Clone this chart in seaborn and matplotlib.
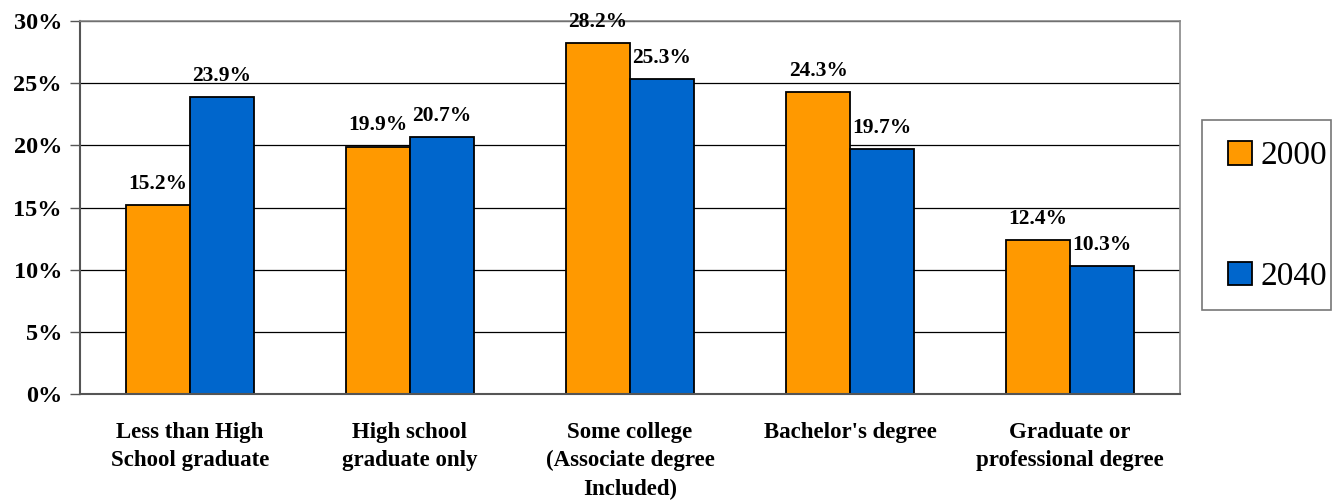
import matplotlib
matplotlib.use("Agg")
import matplotlib.pyplot as plt
import seaborn as sns
import pandas as pd
import numpy as np
from matplotlib.patches import Patch, Rectangle

categories = ["Less than High\nSchool graduate", "High school\ngraduate only",
              "Some college\n(Associate degree\nIncluded)", "Bachelor's degree",
              "Graduate or\nprofessional degree"]
values_2000 = [15.2, 19.9, 28.2, 24.3, 12.4]
values_2040 = [23.9, 20.7, 25.3, 19.7, 10.3]
series = ["2000", "2040"]
colors = ["#FF9900", "#0066CC"]
yticks = [0, 5, 10, 15, 20, 25, 30]

df = pd.DataFrame({
    "cat": categories * 2,
    "val": values_2000 + values_2040,
    "year": [series[0]] * 5 + [series[1]] * 5,
})

sns.set_style("white")
plt.rcParams['font.family'] = ['Liberation Serif', 'DejaVu Serif']
plt.rcParams['text.color'] = 'black'
plt.rcParams['xtick.labelcolor'] = 'black'
plt.rcParams['ytick.labelcolor'] = 'black'

W, H = 1342, 501
fig = plt.figure(figsize=(W / 100, H / 100), dpi=100)
ax = fig.add_axes([80 / W, 1 - 394 / H, 1100 / W, 373 / H])

sns.barplot(data=df, x="cat", y="val", hue="year", palette=colors, ax=ax,
            width=0.58, edgecolor="black", linewidth=1.3, legend=False,
            saturation=1)

ax.set_ylim(0, 30)
ax.set_xlim(-0.5, 4.5)
ax.set_yticks(yticks)
ax.set_yticklabels([f"{t}%" for t in yticks], fontsize=17.5, fontweight="bold",
                   color="black")
ax.yaxis.grid(True, color="black", linewidth=0.9)
ax.set_axisbelow(True)
ax.set_xlabel("")
ax.set_ylabel("")

ax.set_xticks(range(5))
ax.set_xticklabels(categories, fontsize=16.5, fontweight="bold", linespacing=1.45,
                   color="black")
ax.tick_params(axis="x", length=0, pad=20)
ax.set_xticks(np.arange(-0.5, 5, 1), minor=True)
ax.tick_params(axis="x", which="minor", length=7, color="#555555", width=1, direction="out")
ax.tick_params(axis="y", length=7, color="#555555", width=1, direction="out", left=True, pad=6)

for s in ["top", "right"]:
    ax.spines[s].set_color("#888888")
    ax.spines[s].set_linewidth(1.2)
ax.spines["left"].set_color("#555555")
ax.spines["left"].set_linewidth(1.5)
ax.spines["bottom"].set_color("#555555")
ax.spines["bottom"].set_linewidth(1.5)

for cont in ax.containers:
    lbls = ax.bar_label(cont, labels=[f"{v:.1f}%" for v in cont.datavalues],
                        fontsize=15.5, fontweight="bold", padding=8, color="black")
    for t in lbls:
        t.set_clip_on(False)

handles = [Patch(facecolor=c, edgecolor="black", linewidth=1.3) for c in colors]
leg = fig.legend(handles, series, loc="center",
                 bbox_to_anchor=(1277.5 / W, 1 - 216.5 / H), fontsize=24, frameon=False,
                 labelspacing=2.7, handlelength=0.7, handleheight=0.7,
                 handletextpad=0.25, borderpad=0, borderaxespad=0,
                 labelcolor="black")
fig.patches.append(Rectangle((1202 / W, 1 - 310 / H), 129 / W, 190 / H,
                             transform=fig.transFigure, fill=False,
                             edgecolor="#777777", linewidth=1.2))

fig.savefig("out.png", dpi=100)
